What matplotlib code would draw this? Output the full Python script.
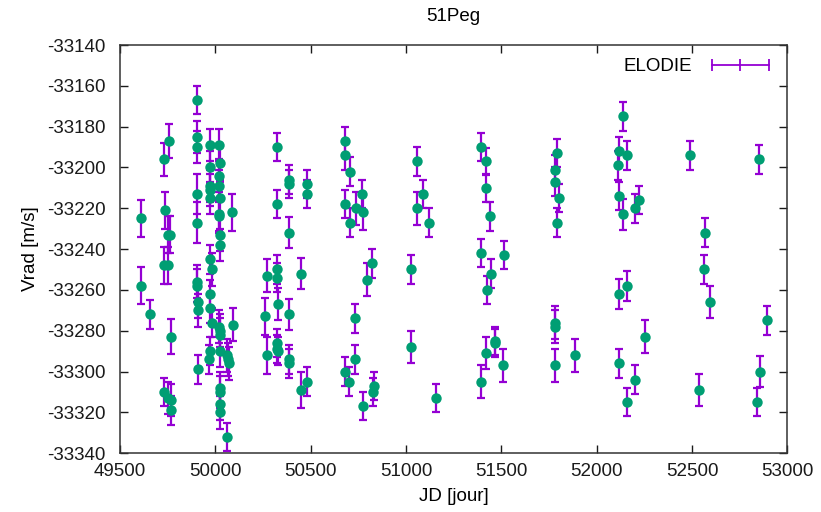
import matplotlib
matplotlib.use("Agg")
import matplotlib.pyplot as plt
from matplotlib.lines import Line2D

plt.rcParams['font.family'] = ['Liberation Sans', 'DejaVu Sans']
plt.rcParams['axes.unicode_minus'] = False

# ELODIE radial velocities of 51 Peg
jd = [49612, 49612, 49656,
      49734, 49757, 49738, 49752, 49761, 49734, 49755, 49766, 49731, 49752, 49766, 49766,
      49907, 49907, 49907, 49907, 49907, 49906, 49906, 49912, 49912, 49912,
      49974, 49974, 49974, 49974, 49974, 49975, 49981, 49975, 49975, 49982, 49972, 49968,
      50022, 50027, 50022, 50022, 50027, 50022, 50022, 50027, 50027, 50022, 50027, 50027,
      50027, 50027, 50027, 50027, 50027,
      50061, 50066, 50070, 50061, 50089, 50094,
      50270, 50263, 50270,
      50324, 50324, 50331, 50324, 50324, 50324, 50324, 50328,
      50385, 50385, 50385, 50385, 50385, 50385,
      50451, 50451, 50480, 50480, 50480,
      50680, 50680, 50680, 50680, 50706, 50706, 50701,
      50739, 50734, 50734, 50769, 50776, 50776, 50795, 50821, 50830, 50825,
      51024, 51029, 51056, 51056, 51090, 51120, 51158,
      51392, 51392, 51392, 51422, 51422, 51427, 51422, 51439, 51446, 51467, 51467,
      51514, 51507,
      51791, 51783, 51783, 51805, 51791, 51783, 51783, 51783, 51884,
      52119, 52112, 52119, 52119, 52119, 52138, 52138, 52161, 52161, 52161,
      52199, 52199, 52220, 52255,
      52491, 52536, 52569, 52562, 52593, 52852, 52859, 52840, 52893]
vrad = [-33225, -33258, -33272,
        -33196, -33187, -33221, -33233, -33233, -33248, -33248, -33283, -33310, -33313, -33314, -33319,
        -33167, -33185, -33190, -33213, -33227, -33256, -33258, -33266, -33270, -33299,
        -33189, -33200, -33209, -33211, -33215, -33245, -33250, -33262, -33269, -33276, -33290, -33294,
        -33189, -33198, -33204, -33209, -33215, -33223, -33224, -33233, -33238, -33278, -33280, -33282,
        -33290, -33308, -33310, -33316, -33320,
        -33292, -33294, -33296, -33332, -33222, -33277,
        -33253, -33273, -33292,
        -33190, -33218, -33267, -33250, -33254, -33286, -33289, -33290,
        -33206, -33208, -33232, -33272, -33294, -33296,
        -33252, -33309, -33208, -33213, -33305,
        -33187, -33194, -33218, -33300, -33202, -33227, -33305,
        -33220, -33274, -33294, -33213, -33222, -33317, -33255, -33247, -33307, -33310,
        -33250, -33288, -33197, -33220, -33213, -33227, -33313,
        -33190, -33242, -33305, -33197, -33210, -33260, -33291, -33224, -33252, -33285, -33286,
        -33243, -33297,
        -33193, -33201, -33207, -33215, -33227, -33276, -33278, -33297, -33292,
        -33192, -33199, -33214, -33262, -33296, -33175, -33223, -33194, -33258, -33315,
        -33220, -33304, -33216, -33283,
        -33194, -33309, -33232, -33250, -33266, -33196, -33300, -33315, -33275]
err = [9, 9, 7,
       8, 8.5, 9, 9, 9, 9, 9, 8.5, 7, 8, 8, 7,
       7, 8, 8, 10, 10, 8, 8, 8, 8, 7,
       8, 8, 8, 8, 8, 7, 8, 7, 7, 7, 7, 7,
       8, 8, 8, 8, 8, 8, 8, 8, 8, 8, 8, 8,
       8, 8, 8, 8, 8,
       8, 8, 8, 7, 9, 8,
       8, 9, 9,
       7, 7, 8, 7, 7, 7, 7, 7,
       7, 7, 7.5, 7.5, 7, 7,
       7.5, 9, 7, 7, 7,
       7, 7, 7, 7, 7, 7, 7,
       8, 7, 7, 7, 8.5, 7, 8, 7, 7, 7,
       7, 8, 7, 8, 7, 7, 7,
       7, 7, 8, 6.5, 7, 7, 8, 7, 7, 7, 7,
       7, 8,
       7, 7, 7, 7, 7, 8, 8, 8, 8,
       7, 7, 7, 7.5, 7, 7, 7.5, 7, 7.5, 7,
       7, 7, 7, 8,
       7, 8, 7, 7, 8, 7, 7.5, 7, 7]

purple = '#9400d3'
green = '#009e73'

fig = plt.figure(figsize=(8.21, 5.12), dpi=100)
ax = fig.add_axes([0.146, 0.115, 0.813, 0.797])

ax.errorbar(jd, vrad, yerr=err, fmt='none', ecolor=purple, elinewidth=1.6,
            capsize=3.2, capthick=1.6, zorder=2)
ax.plot(jd, vrad, 'o', color=green, markersize=7.5, markeredgewidth=0, zorder=3)

ax.set_xlim(49500, 53000)
ax.set_ylim(-33340, -33140)
ax.set_xticks(range(49500, 53001, 500))
ax.set_yticks(range(-33340, -33139, 20))
ax.tick_params(direction='in', top=True, right=True, length=6, width=1,
               labelsize=13.5, colors='#1a1a1a')
ax.tick_params(axis='y', pad=10)
ax.tick_params(axis='x', pad=7)
for s in ax.spines.values():
    s.set_linewidth(1.1)
    s.set_color('#333333')

ax.set_xlabel('JD [jour]', fontsize=13.5, labelpad=6)
ax.set_ylabel('Vrad [m/s]', fontsize=13.5, labelpad=6)
ax.set_title('51Peg', fontsize=13.5, pad=17)

handle = Line2D([], [], color=purple, marker='|', markersize=8, linewidth=1.3, markeredgewidth=1.3)
ax.legend([handle], ['ELODIE'], loc='upper right', frameon=False, markerfirst=False,
          numpoints=3, handlelength=3.6, fontsize=13.5, borderaxespad=0.3)

fig.savefig('out.png', dpi=100)
